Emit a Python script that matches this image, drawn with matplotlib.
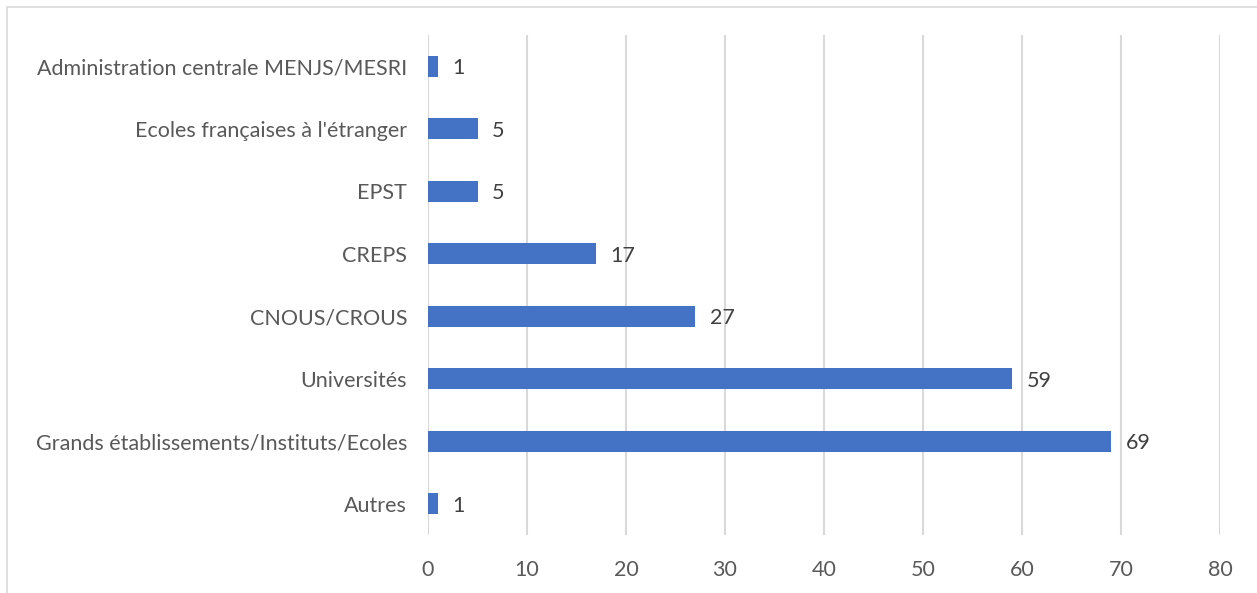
import matplotlib.pyplot as plt
from matplotlib.patches import Rectangle

categories = ['Autres', 'Grands établissements/Instituts/Ecoles', 'Universités', 'CNOUS/CROUS',
              'CREPS', 'EPST', "Ecoles françaises à l'étranger", 'Administration centrale MENJS/MESRI']
values = [1, 69, 59, 27, 17, 5, 5, 1]
xticks = [0, 10, 20, 30, 40, 50, 60, 70, 80]

text_col = '#595959'
plt.rcParams['font.family'] = ['Lato', 'DejaVu Sans']

fig = plt.figure(figsize=(12.57, 5.93), dpi=100)
ax = fig.add_axes([428 / 1257, 58 / 593, 792 / 1257, 500 / 593])

# chart border like excel
fig.patches.append(Rectangle((7 / 1257, -0.1), 1.2, 1 - 7 / 593 + 0.1, transform=fig.transFigure,
                             fill=False, edgecolor='#d9d9d9', lw=1.2))

pos = range(len(categories))
ax.barh(pos, values, height=0.33, color='#4472C4', zorder=3)
for p, v in zip(pos, values):
    ax.text(v + 1.45, p - 0.035, str(v), va='center', ha='left', fontsize=15.5, color='#404040')

ax.set_xlim(0, 80)
ax.set_ylim(-0.5, len(categories) - 0.5)
ax.set_xticks(xticks)
ax.set_yticks(list(pos))
ax.set_yticklabels(categories)
ax.grid(axis='x', color='#d9d9d9', lw=1.5, zorder=0)
for s in ax.spines.values():
    s.set_visible(False)
ax.tick_params(length=0, labelsize=15.5, colors=text_col)
ax.tick_params(axis='y', pad=15)
ax.tick_params(axis='x', pad=18)

fig.savefig('out.png', dpi=100)
